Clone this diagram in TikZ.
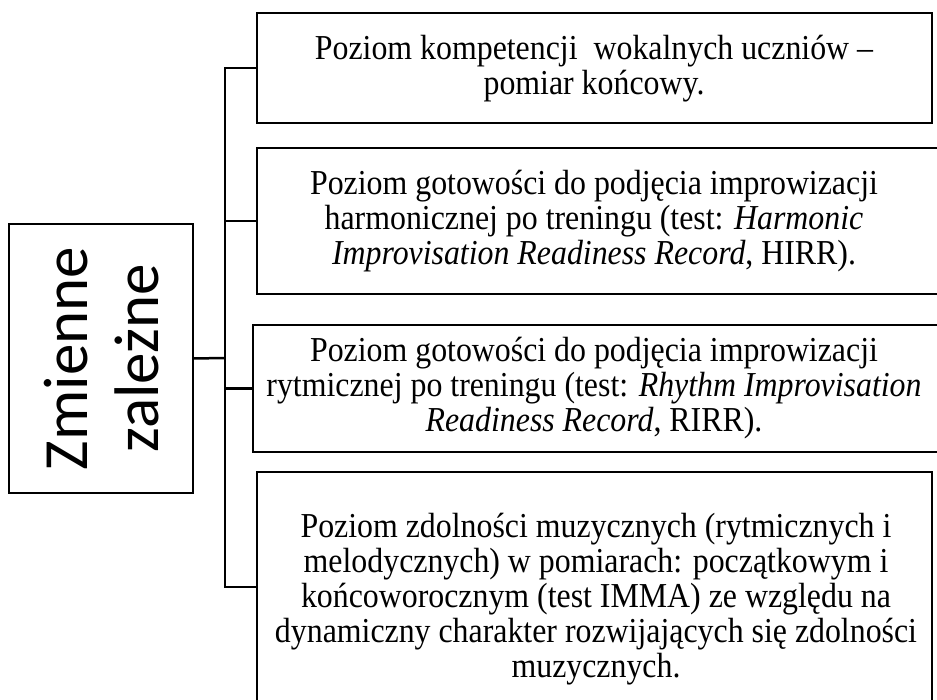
\documentclass[tikz,border=0pt]{standalone}
\usepackage{fontspec}
\setmainfont{Liberation Serif}[FakeStretch=0.91]
\newfontfamily\calibfont{Carlito}
\begin{document}
\begin{tikzpicture}[x=1pt,y=-1pt,line width=2.5pt,
  boxstyle/.style={draw=black,rectangle,inner sep=0pt,outer sep=0pt,anchor=north west},
  bodytext/.style={align=center,inner sep=0pt,font=\fontsize{35}{35}\selectfont},
  conn/.style={draw=black,line width=2.5pt}]
\clip (0,0) rectangle (937,700);
\fill[white] (0,0) rectangle (937,700);
% left box
\node[boxstyle,minimum width=184pt,minimum height=269pt] (zl) at (9,224) {};
\node[rotate=90,align=center,inner sep=0pt,font=\calibfont\fontsize{63}{71}\selectfont] (zt) at (102,358.5) {Zmienne\\zależne};
% right boxes
\node[boxstyle,minimum width=675pt,minimum height=110pt] (b1) at (257,13) {};
\node[boxstyle,minimum width=690pt,minimum height=146pt] (b2) at (257,148) {};
\node[boxstyle,minimum width=694pt,minimum height=127pt] (b3) at (253,325) {};
\node[boxstyle,minimum width=675pt,minimum height=230pt] (b4) at (257,472) {};
% texts
\node[bodytext] (t1) at (594,69) {Poziom kompetencji~ wokalnych uczniów –\\pomiar końcowy.};
\node[bodytext] (t2) at (594,221) {Poziom gotowości do podjęcia improwizacji\\harmonicznej po treningu (test: \textit{Harmonic}\\\textit{Improvisation Readiness Record}, HIRR).};
\node[bodytext] (t3) at (594,388.5) {Poziom gotowości do podjęcia improwizacji\\rytmicznej po treningu (test: \textit{Rhythm Improvisation}\\\textit{Readiness Record}, RIRR).};
\node[bodytext] (t4) at (596,599) {Poziom zdolności muzycznych (rytmicznych i\\melodycznych) w pomiarach: początkowym i\\końcoworocznym (test IMMA) ze względu na\\dynamiczny charakter rozwijających się zdolności\\muzycznych.};
% connectors
\coordinate (tr) at (225,358);
\draw[conn] (zl.east) -- (tr);
\draw[conn] (b1.west) -- (b1.west -| tr) -- (b4.west -| tr) -- (b4.west);
\draw[conn] (b2.west) -- (b2.west -| tr);
\draw[conn] (b3.west) -- (b3.west -| tr);
\end{tikzpicture}
\end{document}
